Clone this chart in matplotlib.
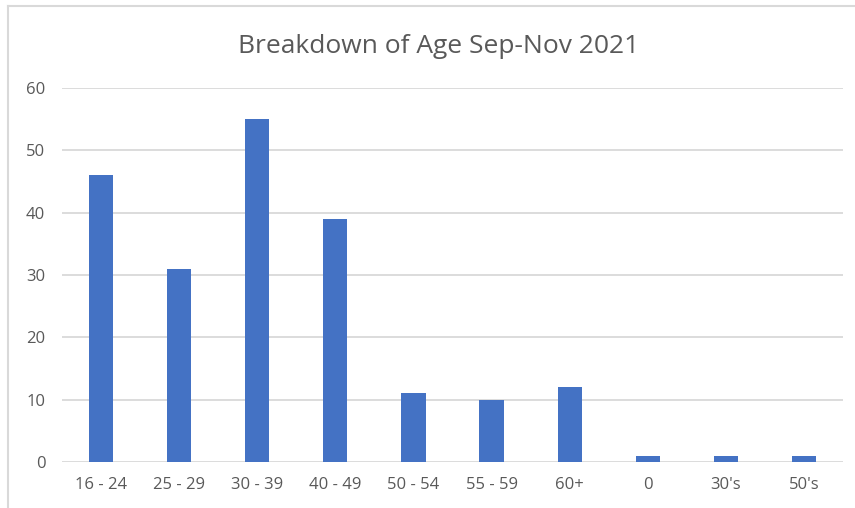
import matplotlib
matplotlib.use('Agg')
import matplotlib.pyplot as plt
from matplotlib.lines import Line2D
import numpy as np

# Datos del gráfico
categorias = ['16 - 24', '25 - 29', '30 - 39', '40 - 49', '50 - 54',
              '55 - 59', '60+', '0', "30's", "50's"]
valores    = [46, 31, 55, 39, 11, 10, 12, 1, 1, 1]
titulo     = 'Breakdown of Age Sep-Nov 2021'

plt.rcParams['font.family'] = ['Open Sans', 'DejaVu Sans']

fig = plt.figure(figsize=(8.55, 5.08), dpi=100)
ax  = fig.add_axes([62/855, 46/508, (843-62)/855, (462-88)/508])

x = np.arange(len(categorias))
ax.bar(x, valores, width=0.31, color='#4472C4', zorder=3)

ax.set_xlim(-0.5, len(categorias) - 0.5)
ax.set_ylim(0, 60)
ax.set_yticks(range(0, 61, 10))
ax.set_xticks(x)
ax.set_xticklabels(categorias)
ax.grid(axis='y', color='#D9D9D9', linewidth=1.3, zorder=0)
for s in ax.spines.values():
    s.set_visible(False)
ax.tick_params(length=0, colors='#595959', labelsize=12)
ax.tick_params(axis='y', pad=12)
ax.tick_params(axis='x', pad=11)

fig.text(439/855, 1 - 46/508, titulo, ha='center', va='center',
         fontsize=19, color='#595959')

# Borde del área del gráfico (recortado a derecha y abajo)
fig.add_artist(Line2D([8/855, 8/855], [0, 1 - 6/508], transform=fig.transFigure,
                      color='#D9D9D9', lw=1.5))
fig.add_artist(Line2D([8/855, 1], [1 - 6/508, 1 - 6/508], transform=fig.transFigure,
                      color='#D9D9D9', lw=1.5))

fig.savefig('out.png', dpi=100)
